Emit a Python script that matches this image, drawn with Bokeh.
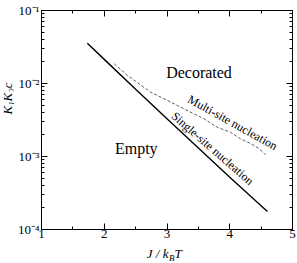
import math
from bokeh.plotting import figure
from bokeh.layouts import row, column
from bokeh.models import Label, LinearAxis, LogAxis, FixedTicker, CustomJSTickFormatter
from bokeh.embed import file_html
from bokeh.resources import INLINE

# ---- data ----
single_x = [1.73, 2.0, 2.5, 3.0, 3.5, 4.0, 4.6]
single_y = [0.0356, 0.0214, 0.00836, 0.0033, 0.00131, 0.000521, 0.000177]

multi_x = [2.16, 2.37, 2.74, 3.01, 3.27, 3.59, 3.80, 4.01, 4.17, 4.33, 4.46, 4.57]
multi_y = [0.0186, 0.0129, 0.0076, 0.00585, 0.0045, 0.00328, 0.00252,
           0.00215, 0.00175, 0.00151, 0.00129, 0.00106]

x_major = [1, 2, 3, 4, 5]
x_minor = [1.5, 2.5, 3.5, 4.5]
y_major = [1e-4, 1e-3, 1e-2, 1e-1]
y_minor = [m * d for d in [1e-4, 1e-3, 1e-2] for m in range(2, 10)]

FONT = "Liberation Serif"
W, H = 297, 263
YL_W = 14          # strip for the y-axis title
XL_H = 19          # strip for the x-axis title
PH = H - XL_H      # main plot height

p = figure(width=W - YL_W, height=PH, y_axis_type="log",
           x_range=(1, 5), y_range=(1e-4, 1e-1),
           output_backend="svg", toolbar_location=None,
           min_border_left=41 - YL_W, min_border_right=5,
           min_border_top=10, min_border_bottom=PH - 229)
p.grid.visible = False
p.outline_line_color = "black"
p.background_fill_color = "white"
p.border_fill_color = "white"

yfmt = CustomJSTickFormatter(code="""
const e = Math.round(Math.log10(tick));
const sup = {'-':'\\u207B','0':'\\u2070','1':'\\u00B9','2':'\\u00B2','3':'\\u00B3','4':'\\u2074'};
return '10' + String(e).split('').map(c => sup[c]).join('');
""")
blank = CustomJSTickFormatter(code="return '';")

def style(ax, labels=True, standoff=2):
    ax.major_tick_in = 6
    ax.major_tick_out = 0
    ax.minor_tick_in = 3
    ax.minor_tick_out = 0
    ax.axis_line_color = "black"
    ax.major_tick_line_color = "black"
    ax.minor_tick_line_color = "black"
    ax.major_label_text_font = FONT
    ax.major_label_text_font_size = "13px"
    ax.major_label_text_color = "black"
    ax.major_label_standoff = standoff if labels else 0
    if not labels:
        ax.formatter = blank

xa = p.xaxis[0]
xa.ticker = FixedTicker(ticks=x_major, minor_ticks=x_minor)
style(xa, standoff=0)
ya = p.yaxis[0]
ya.ticker = FixedTicker(ticks=y_major, minor_ticks=y_minor)
ya.formatter = yfmt
style(ya)

top = LinearAxis(ticker=FixedTicker(ticks=x_major, minor_ticks=x_minor))
style(top, labels=False)
p.add_layout(top, "above")
right = LogAxis(ticker=FixedTicker(ticks=y_major, minor_ticks=y_minor))
style(right, labels=False)
p.add_layout(right, "right")

p.line(single_x, single_y, line_color="black", line_width=1.4)
p.line(multi_x, multi_y, line_color="#333333", line_width=0.8, line_dash="3 2")

def lab(fig, x, y, text, size, angle=0.0, align="center", baseline="middle",
        style_="normal", units="data"):
    fig.add_layout(Label(x=x, y=y, text=text, text_font=FONT, text_font_size=size,
                         angle=angle, text_align=align, text_baseline=baseline,
                         text_font_style=style_, text_color="black",
                         x_units=units, y_units=units))

lab(p, 3.51, 0.0142, "Decorated", "16px")
lab(p, 2.51, 0.00129, "Empty", "16px")
lab(p, 4.046, 0.00292, "Multi-site nucleation", "12px", angle=-math.radians(29))
lab(p, 3.728, 0.00129, "Single-site nucleation", "12px", angle=-math.radians(41))

def strip(w, h):
    f = figure(width=w, height=h, output_backend="svg", toolbar_location=None,
               x_axis_location=None, y_axis_location=None,
               min_border_left=0, min_border_right=0,
               min_border_top=0, min_border_bottom=0)
    f.grid.visible = False
    f.outline_line_color = None
    f.background_fill_color = "white"
    f.border_fill_color = "white"
    return f

# y-axis title strip (left of the plot)
py_ = strip(YL_W, PH)
lab(py_, 7, PH - 113, "K\u2081K\u2082c", "13px", angle=math.pi / 2,
    style_="italic", units="screen")

# x-axis title strip (below the plot); screen y measured up from its bottom
px_ = strip(W, XL_H)
lab(px_, 168, 10.5, "J / k", "13px", align="right", baseline="middle",
    style_="italic", units="screen")
lab(px_, 168.5, 5.7, "B", "9px", align="left", baseline="middle",
    style_="italic", units="screen")
lab(px_, 174, 10.5, "T", "13px", align="left", baseline="middle",
    style_="italic", units="screen")

layout = column(row(py_, p, spacing=0), px_, spacing=0)

open("out.html", "w", encoding="utf-8").write(file_html(layout, INLINE))
